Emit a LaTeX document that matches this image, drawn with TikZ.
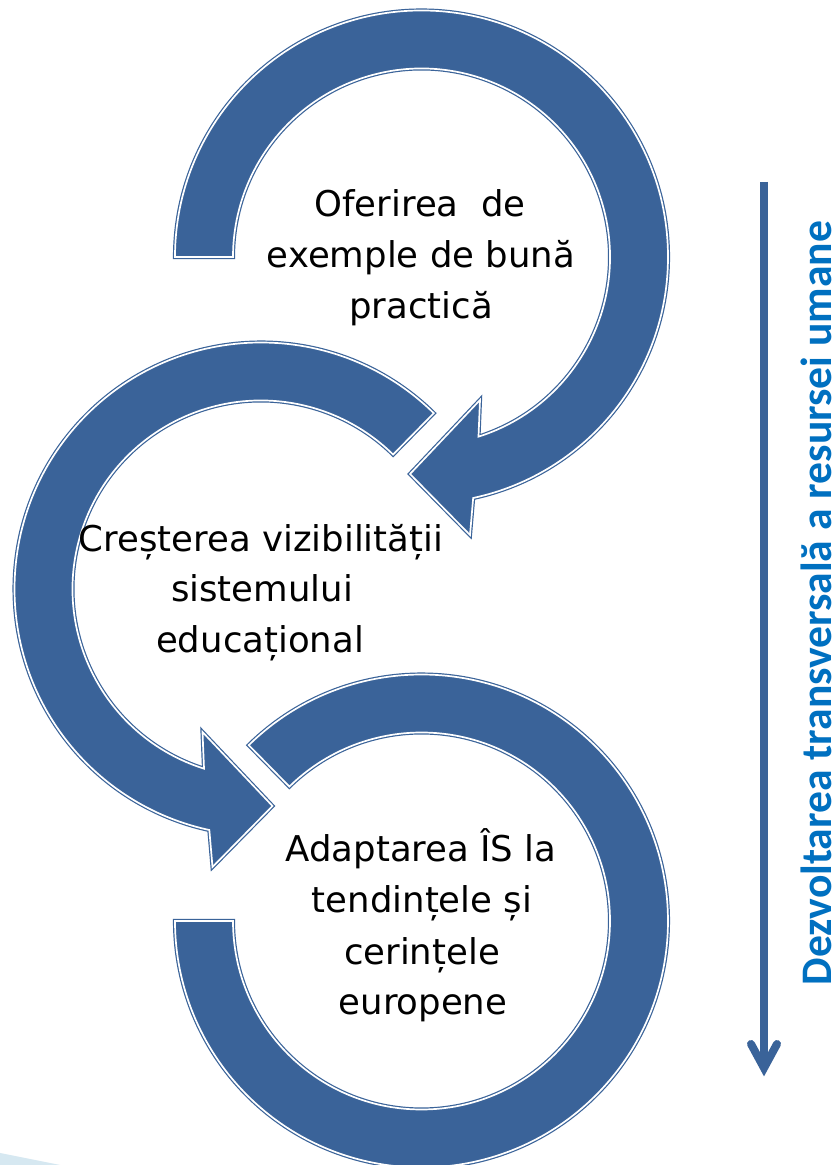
\documentclass[tikz,border=0pt]{standalone}
\usepackage{fontspec}
\setmainfont{DejaVu Sans}
\newfontfamily\carl{Carlito}
\definecolor{ringblue}{HTML}{3A6399}
\definecolor{txtblue}{HTML}{0070C0}
\definecolor{streak}{HTML}{D6E8F1}
\begin{document}
\begin{tikzpicture}[x=1pt,y=1pt,
  ring/.style={fill=ringblue, draw=ringblue, double=white, double distance=1.7pt, line width=1.2pt, line join=miter},
  lbl/.style={anchor=base, inner sep=0pt, text=black, font=\fontsize{35.5}{51}\selectfont},
  vshaft/.style={draw=ringblue, line width=8pt},
  vhead/.style={draw=ringblue, line width=8pt, line cap=round, line join=miter},
  vlbl/.style={rotate=90, anchor=base, inner sep=0pt, text=txtblue, font=\carl\bfseries\fontsize{43.6}{50}\selectfont}]
\useasboundingbox (0,0) rectangle (839,1165);
\fill[white] (0,0) rectangle (839,1165);
\fill[streak] (0,12) -- (60,0) -- (0,0) -- cycle;

\coordinate (c1) at (421.5,908);
\coordinate (c2) at (261,576);
\coordinate (c3) at (421.5,244);

% ring 3 (no head)
\begin{scope}[shift={(c3)}]
  \path[ring] (134.5:246.5) arc[start angle=134.5, end angle=-180, radius=246.5]
    -- (-180:188.5) arc[start angle=-180, end angle=134.5, radius=188.5] -- cycle;
\end{scope}
% ring 2
\begin{scope}[shift={(c2)}]
  \path[ring] (45.5:246.5) arc[start angle=45.5, end angle=257.9, radius=246.5]
    -- (-48.5,-278) -- (11.5,-217) -- (-58.5,-143)
    -- (252.4:188.5) arc[start angle=252.4, end angle=45.5, radius=188.5] -- cycle;
\end{scope}
% ring 1
\begin{scope}[shift={(c1)}]
  \path[ring] (180:246.5) arc[start angle=180, end angle=-77.9, radius=246.5]
    -- (48.5,-278) -- (-11.5,-217) -- (58.5,-143)
    -- (-72.4:188.5) arc[start angle=-72.4, end angle=180, radius=188.5] -- cycle;
\end{scope}

% labels
\node[lbl] (t1a) at (420,948) {Oferirea\ \ de};
\node[lbl] (t1b) at (421,897) {exemple de bună};
\node[lbl] (t1c) at (421,846) {practică};

\node[lbl] (t2a) at (261,613) {Creșterea vizibilității};
\node[lbl] (t2b) at (262,563) {sistemului};
\node[lbl] (t2c) at (260,512) {educațional};

\node[lbl] (t3a) at (421,303) {Adaptarea ÎS la};
\node[lbl] (t3b) at (422,252) {tendințele și};
\node[lbl] (t3c) at (422,200) {cerințele};
\node[lbl] (t3d) at (423,150) {europene};

% vertical arrow
\coordinate (vtop) at (764,983);
\coordinate (vtip) at (764,97);
\draw[vshaft] (vtop) -- (vtip);
\draw[vhead] (vtip) ++(-13,24) -- (vtip) -- ++(13,24);
\node[vlbl] (vlab) at (831,562) {Dezvoltarea transversală a resursei umane};
\end{tikzpicture}
\end{document}
